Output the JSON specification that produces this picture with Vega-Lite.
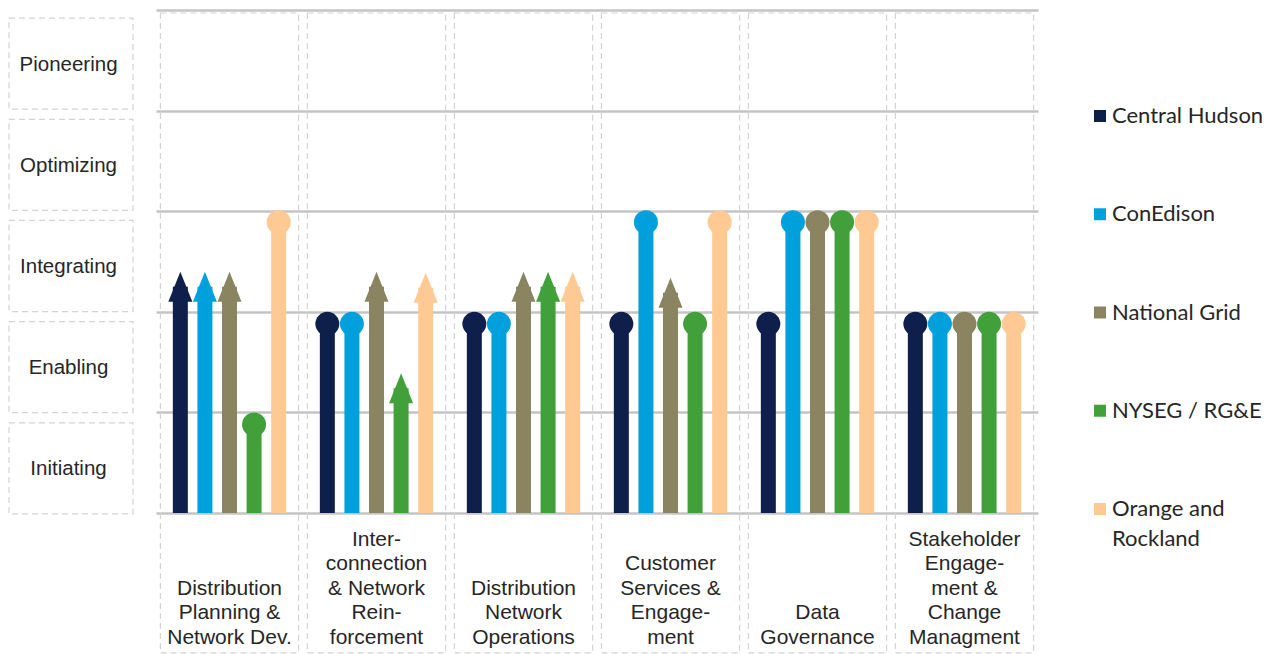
{
  "$schema": "https://vega.github.io/schema/vega-lite/v6.json",
  "padding": {"left": 8, "top": 10, "right": 0, "bottom": 0},
  "background": "white",
  "config": {
    "view": {"stroke": null},
    "font": "Liberation Sans",
    "concat": {"spacing": 22}
  },
  "datasets": {
    "scores": [
      {"category": "Distribution|Planning &|Network  Dev.", "company": "Central Hudson", "level": 2.25, "marker": "arrow"},
      {"category": "Distribution|Planning &|Network  Dev.", "company": "ConEdison", "level": 2.25, "marker": "arrow"},
      {"category": "Distribution|Planning &|Network  Dev.", "company": "National Grid", "level": 2.25, "marker": "arrow"},
      {"category": "Distribution|Planning &|Network  Dev.", "company": "NYSEG / RG&E", "level": 0.88, "marker": "dot"},
      {"category": "Distribution|Planning &|Network  Dev.", "company": "Orange and Rockland", "level": 2.89, "marker": "dot"},
      {"category": "Inter-|connection|& Network|Rein-|forcement", "company": "Central Hudson", "level": 1.88, "marker": "dot"},
      {"category": "Inter-|connection|& Network|Rein-|forcement", "company": "ConEdison", "level": 1.88, "marker": "dot"},
      {"category": "Inter-|connection|& Network|Rein-|forcement", "company": "National Grid", "level": 2.25, "marker": "arrow"},
      {"category": "Inter-|connection|& Network|Rein-|forcement", "company": "NYSEG / RG&E", "level": 1.24, "marker": "arrow"},
      {"category": "Inter-|connection|& Network|Rein-|forcement", "company": "Orange and Rockland", "level": 2.24, "marker": "arrow"},
      {"category": "Distribution|Network|Operations", "company": "Central Hudson", "level": 1.88, "marker": "dot"},
      {"category": "Distribution|Network|Operations", "company": "ConEdison", "level": 1.88, "marker": "dot"},
      {"category": "Distribution|Network|Operations", "company": "National Grid", "level": 2.25, "marker": "arrow"},
      {"category": "Distribution|Network|Operations", "company": "NYSEG / RG&E", "level": 2.25, "marker": "arrow"},
      {"category": "Distribution|Network|Operations", "company": "Orange and Rockland", "level": 2.25, "marker": "arrow"},
      {"category": "Customer|Services &|Engage-|ment", "company": "Central Hudson", "level": 1.88, "marker": "dot"},
      {"category": "Customer|Services &|Engage-|ment", "company": "ConEdison", "level": 2.89, "marker": "dot"},
      {"category": "Customer|Services &|Engage-|ment", "company": "National Grid", "level": 2.19, "marker": "arrow"},
      {"category": "Customer|Services &|Engage-|ment", "company": "NYSEG / RG&E", "level": 1.88, "marker": "dot"},
      {"category": "Customer|Services &|Engage-|ment", "company": "Orange and Rockland", "level": 2.89, "marker": "dot"},
      {"category": "Data|Governance", "company": "Central Hudson", "level": 1.88, "marker": "dot"},
      {"category": "Data|Governance", "company": "ConEdison", "level": 2.89, "marker": "dot"},
      {"category": "Data|Governance", "company": "National Grid", "level": 2.89, "marker": "dot"},
      {"category": "Data|Governance", "company": "NYSEG / RG&E", "level": 2.89, "marker": "dot"},
      {"category": "Data|Governance", "company": "Orange and Rockland", "level": 2.89, "marker": "dot"},
      {"category": "Stakeholder|Engage-|ment &|Change|Managment", "company": "Central Hudson", "level": 1.88, "marker": "dot"},
      {"category": "Stakeholder|Engage-|ment &|Change|Managment", "company": "ConEdison", "level": 1.88, "marker": "dot"},
      {"category": "Stakeholder|Engage-|ment &|Change|Managment", "company": "National Grid", "level": 1.88, "marker": "dot"},
      {"category": "Stakeholder|Engage-|ment &|Change|Managment", "company": "NYSEG / RG&E", "level": 1.88, "marker": "dot"},
      {"category": "Stakeholder|Engage-|ment &|Change|Managment", "company": "Orange and Rockland", "level": 1.88, "marker": "dot"}
    ],
    "categories": [
      {"category": "Distribution|Planning &|Network  Dev."},
      {"category": "Inter-|connection|& Network|Rein-|forcement"},
      {"category": "Distribution|Network|Operations"},
      {"category": "Customer|Services &|Engage-|ment"},
      {"category": "Data|Governance"},
      {"category": "Stakeholder|Engage-|ment &|Change|Managment"}
    ],
    "levels": [
      {"stage": "Pioneering"},
      {"stage": "Optimizing"},
      {"stage": "Integrating"},
      {"stage": "Enabling"},
      {"stage": "Initiating"}
    ],
    "companies": [
      {"company": "Central Hudson", "label": "Central Hudson"},
      {"company": "ConEdison", "label": "ConEdison"},
      {"company": "National Grid", "label": "National Grid"},
      {"company": "NYSEG / RG&E", "label": "NYSEG / RG&E"},
      {"company": "Orange and Rockland", "label": "Orange and\nRockland"}
    ]
  },
  "hconcat": [
    {
      "width": 124,
      "height": 512,
      "data": {"name": "levels"},
      "layer": [
        {
          "mark": {"type": "rect", "fill": "white", "stroke": "#d4d4d4", "strokeWidth": 1.2, "strokeDash": [6, 4]},
          "encoding": {
            "y": {"field": "stage", "type": "nominal", "sort": null, "scale": {"paddingInner": 0.1, "paddingOuter": 0.08}, "axis": null},
            "x": {"datum": 0, "type": "quantitative", "scale": {"domain": [0, 1]}, "axis": null},
            "x2": {"datum": 1}
          }
        },
        {
          "mark": {"type": "text", "fontSize": 20.5, "font": "Liberation Sans", "color": "#262626", "baseline": "middle", "dy": 1},
          "encoding": {
            "y": {"field": "stage", "type": "nominal", "sort": null, "axis": null},
            "x": {"datum": 0.48, "type": "quantitative", "axis": null},
            "text": {"field": "stage"}
          }
        }
      ]
    },
    {
      "width": 882,
      "height": 503,
      "layer": [
        {
          "data": {"name": "categories"},
          "mark": {"type": "bar", "width": {"band": 0.94}, "fill": "white", "fillOpacity": 0, "stroke": "#d4d4d4", "strokeWidth": 1.2, "strokeDash": [6, 4]},
          "encoding": {
            "x": {"field": "category", "type": "nominal", "sort": null},
            "y": {"datum": 4.97, "type": "quantitative"},
            "y2": {"datum": -1.39}
          }
        },
        {
          "data": {"name": "scores"},
          "mark": {"type": "bar"},
          "encoding": {
            "x": {
              "field": "category", "type": "nominal", "sort": null,
              "scale": {"paddingInner": 0, "paddingOuter": 0},
              "axis": {
                "title": null, "domain": false, "ticks": false,
                "labelExpr": "reverse(split(datum.value, '|'))",
                "labelFontSize": 21, "labelFont": "Liberation Sans", "labelColor": "#262626",
                "labelLineHeight": -24.5, "labelBaseline": "alphabetic", "labelAlign": "center", "labelPadding": 130, "labelAngle": 0, "labelLimit": 0
              }
            },
            "xOffset": {"field": "company", "type": "nominal", "sort": null, "scale": {"paddingInner": 0.39, "paddingOuter": 0.685}},
            "y": {
              "field": "level", "type": "quantitative",
              "scale": {"domain": [0, 5], "nice": false, "zero": true},
              "axis": {"title": null, "values": [0, 1, 2, 3, 4, 5], "labels": false, "ticks": false, "domain": false, "grid": true, "gridColor": "#c4c4c4", "gridWidth": 2.5}
            },
            "color": {
              "field": "company", "type": "nominal", "sort": null,
              "scale": {"domain": ["Central Hudson", "ConEdison", "National Grid", "NYSEG / RG&E", "Orange and Rockland"], "range": ["#0f1f4b", "#00a0dc", "#8b8461", "#41a03a", "#ffc994"]},
              "legend": null
            }
          }
        },
        {
          "data": {"name": "scores"},
          "mark": {"type": "point", "filled": true, "opacity": 1},
          "encoding": {
            "x": {"field": "category", "type": "nominal", "sort": null},
            "xOffset": {"field": "company", "type": "nominal", "sort": null},
            "y": {"field": "level", "type": "quantitative"},
            "color": {"field": "company", "type": "nominal", "sort": null, "legend": null},
            "shape": {"field": "marker", "type": "nominal", "scale": {"domain": ["dot", "arrow"], "range": ["circle", "M-0.8,1L0.8,1L0,-1Z"]}, "legend": null},
            "size": {"field": "marker", "type": "nominal", "scale": {"domain": ["dot", "arrow"], "range": [576, 900]}, "legend": null}
          }
        }
      ]
    },
    {
      "width": 200,
      "height": 605,
      "data": {"name": "companies"},
      "layer": [
        {
          "mark": {"type": "point", "shape": "square", "filled": true, "opacity": 1, "size": 144},
          "encoding": {
            "y": {"field": "company", "type": "nominal", "sort": null, "scale": {"type": "band", "paddingInner": 0, "paddingOuter": 0.579}, "axis": null},
            "x": {"datum": 0.2, "type": "quantitative", "scale": {"domain": [0, 1]}, "axis": null},
            "color": {
              "field": "company", "type": "nominal", "sort": null,
              "scale": {"domain": ["Central Hudson", "ConEdison", "National Grid", "NYSEG / RG&E", "Orange and Rockland"], "range": ["#0f1f4b", "#00a0dc", "#8b8461", "#41a03a", "#ffc994"]},
              "legend": null
            }
          }
        },
        {
          "mark": {"type": "text", "align": "left", "baseline": "middle", "dx": 12, "fontSize": 22, "font": "Lato", "color": "#262626", "lineBreak": "\n", "lineHeight": 30},
          "encoding": {
            "y": {"field": "company", "type": "nominal", "sort": null, "axis": null},
            "x": {"datum": 0.2, "type": "quantitative"},
            "text": {"field": "label"}
          }
        }
      ]
    }
  ]
}
